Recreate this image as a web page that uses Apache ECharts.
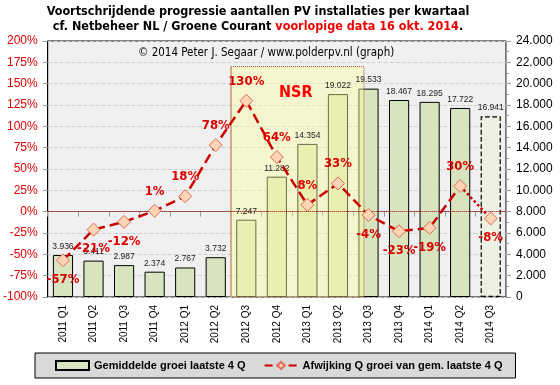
<!DOCTYPE html>
<html>
<head>
<meta charset="utf-8">
<script src="https://cdn.jsdelivr.net/npm/echarts@6/dist/echarts.min.js"></script>
<style>
html,body{margin:0;padding:0;background:#fff;}
#c{width:560px;height:385px;}
</style>
</head>
<body>
<div id="c"></div>
<script>
var categories = ['2011 Q1','2011 Q2','2011 Q3','2011 Q4','2012 Q1','2012 Q2','2012 Q3','2012 Q4','2013 Q1','2013 Q2','2013 Q3','2013 Q4','2014 Q1','2014 Q2','2014 Q3'];
var barValues = [3936, 3411, 2987, 2374, 2767, 3732, 7247, 11282, 14354, 19022, 19533, 18467, 18295, 17722, 16941];
var deviation = [-57, -21, -12, 1, 18, 78, 130, 64, 8, 33, -4, -23, -19, 30, -8];
var leftTicks = {min: -100, max: 200, interval: 25};
var rightTicks = {min: 0, max: 24000, interval: 2000};
var nsrRange = {from: 5.5, to: 9.85, top: 170};

var FONT = '"DejaVu Sans Condensed", "DejaVu Sans", sans-serif';
var SANS = '"Liberation Sans", Arial, sans-serif';
var RED = '#dd0000';
var n = categories.length;
var BAR_NAME = 'Gemiddelde groei laatste 4 Q';
var LINE_NAME = 'Afwijking Q groei van gem. laatste 4 Q';

function fmtThousands(v) {
  return String(v).replace(/\B(?=(\d{3})+(?!\d))/g, '.');
}

var barData = barValues.map(function (v, i) {
  var item = {value: v};
  if (i === n - 1) {
    item.itemStyle = {color: '#edf1e1', borderType: 'dashed', borderColor: '#000', borderWidth: 1.2};
  }
  return item;
});

function labelFor(v) {
  return {position: v >= 0 ? 'top' : 'bottom'};
}

var lineMain = deviation.map(function (v, i) {
  if (i === n - 1) return null;
  return {value: v, label: labelFor(v)};
});
var lineTail = deviation.map(function (v, i) {
  if (i === n - 2) return {value: v, symbol: 'none', label: {show: false}};
  if (i === n - 1) return {value: v, label: labelFor(v)};
  return null;
});

var lineLabel = {
  show: true, fontFamily: FONT, fontWeight: 'bold', fontSize: 13, color: RED,
  distance: 6,
  formatter: function (p) { return p.value + '%'; }
};
var symbolStyle = {color: '#fcd5b4', borderColor: '#e26b5a', borderWidth: 1};

var chart = echarts.init(document.getElementById('c'), null, {renderer: 'canvas'});
chart.setOption({
  animation: false,
  textStyle: {fontFamily: FONT},
  title: {
    text: '{b|Voortschrijdende progressie aantallen PV installaties per kwartaal}\n{b|cf. Netbeheer NL / Groene Courant }{r|voorlopige data 16 okt. 2014}{b|.}',
    left: 258, top: 4, padding: 0, textAlign: 'center',
    textStyle: {
      rich: {
        b: {fontFamily: FONT, fontWeight: 'bold', fontSize: 12.5, color: '#000', lineHeight: 15},
        r: {fontFamily: FONT, fontWeight: 'bold', fontSize: 12.5, color: '#ee0000', lineHeight: 15}
      }
    }
  },
  graphic: [
    {type: 'text', left: 138, top: 47, style: {text: '\u00a9 2014 Peter J. Segaar / www.polderpv.nl (graph)', font: '11.5px ' + FONT, fill: '#000'}, z: 10},
    {type: 'text', left: 279, top: 85, style: {text: 'NSR', font: 'bold 16px ' + FONT, fill: '#ff0000'}, z: 10}
  ],
  legend: {
    left: 35, top: 353,
    backgroundColor: '#d9d9d9', borderColor: '#000', borderWidth: 1,
    padding: [7, 13, 7, 20],
    itemGap: 18, itemWidth: 33, itemHeight: 9,
    data: [{name: BAR_NAME, icon: 'rect'}, {name: LINE_NAME}],
    textStyle: {fontFamily: SANS, fontWeight: 'bold', fontSize: 11, color: '#000'}
  },
  grid: {left: 47, right: 54, top: 41, bottom: 88, show: true, backgroundColor: '#f0f0f0', borderColor: '#000', borderWidth: 1},
  xAxis: [{
    type: 'category', data: categories,
    axisLine: {lineStyle: {color: '#999'}},
    axisTick: {show: true, length: 5, lineStyle: {color: '#999'}},
    axisLabel: {rotate: 90, fontSize: 10, color: '#000', fontFamily: SANS, margin: 8, interval: 0},
    splitLine: {show: false}
  }, {
    type: 'value', show: false, min: -0.5, max: n - 0.5
  }],
  yAxis: [{
    type: 'value', min: leftTicks.min, max: leftTicks.max, interval: leftTicks.interval,
    axisLine: {show: true, onZero: false, lineStyle: {color: '#000'}},
    axisTick: {show: true, length: 5, lineStyle: {color: '#999'}},
    axisLabel: {formatter: '{value}%', color: RED, fontSize: 12, fontFamily: SANS, margin: 10},
    splitLine: {show: true, lineStyle: {color: '#cfcfcf', type: 'dashed'}}
  }, {
    type: 'value', min: rightTicks.min, max: rightTicks.max, interval: rightTicks.interval,
    position: 'right',
    axisLine: {show: true, onZero: false, lineStyle: {color: '#999'}},
    axisTick: {show: true, length: 5, lineStyle: {color: '#999'}},
    minorTick: {show: true, splitNumber: 2, length: 3, lineStyle: {color: '#999'}},
    axisLabel: {formatter: function (v) { return fmtThousands(v); }, color: '#000', fontSize: 12, fontFamily: SANS, margin: 10},
    splitLine: {show: false}
  }],
  series: [{
    name: BAR_NAME,
    type: 'bar', yAxisIndex: 1, xAxisIndex: 0, z: 2,
    barWidth: '66%',
    data: barData,
    itemStyle: {color: '#d7e4bd', borderColor: '#000', borderWidth: 1}
  }, {
    name: 'barLabels',
    type: 'bar', yAxisIndex: 1, xAxisIndex: 0, z: 4,
    barWidth: '66%', barGap: '-100%', silent: true,
    data: barValues,
    itemStyle: {color: 'rgba(0,0,0,0)', borderWidth: 0},
    label: {show: true, position: 'top', distance: 4, fontSize: 8.5, color: '#222', fontFamily: SANS,
      formatter: function (p) { return fmtThousands(p.value); }}
  }, {
    name: 'nsr',
    type: 'line', xAxisIndex: 1, yAxisIndex: 0, data: [], z: 3,
    markArea: {
      silent: true, z: 3,
      itemStyle: {color: 'rgba(255,255,160,0.42)', borderColor: '#a0522d', borderWidth: 1, borderType: 'dotted'},
      data: [
        [{coord: [nsrRange.from, nsrRange.top]}, {coord: [nsrRange.to, leftTicks.min]}],
        [{coord: [nsrRange.from, nsrRange.top], itemStyle: {color: 'rgba(0,0,0,0)', borderColor: '#c8a47c', borderType: 'solid', borderWidth: 1}}, {coord: [nsrRange.from, leftTicks.min]}]
      ]
    }
  }, {
    name: LINE_NAME,
    type: 'line', yAxisIndex: 0, xAxisIndex: 0, z: 5,
    data: lineMain,
    symbol: 'diamond', symbolSize: 13,
    lineStyle: {color: '#cc0000', width: 2.5, type: 'dashed'},
    itemStyle: symbolStyle,
    label: lineLabel,
    markLine: {
      silent: true, symbol: 'none', z: 4, label: {show: false},
      lineStyle: {color: '#a00000', type: 'dotted', width: 1},
      data: [{yAxis: 0}]
    }
  }, {
    name: 'tail',
    type: 'line', yAxisIndex: 0, xAxisIndex: 0, z: 5,
    data: lineTail, connectNulls: false,
    symbol: 'diamond', symbolSize: 13,
    lineStyle: {color: '#cc0000', width: 2.5, type: 'dotted'},
    itemStyle: symbolStyle,
    label: lineLabel
  }]
});
</script>
</body>
</html>
